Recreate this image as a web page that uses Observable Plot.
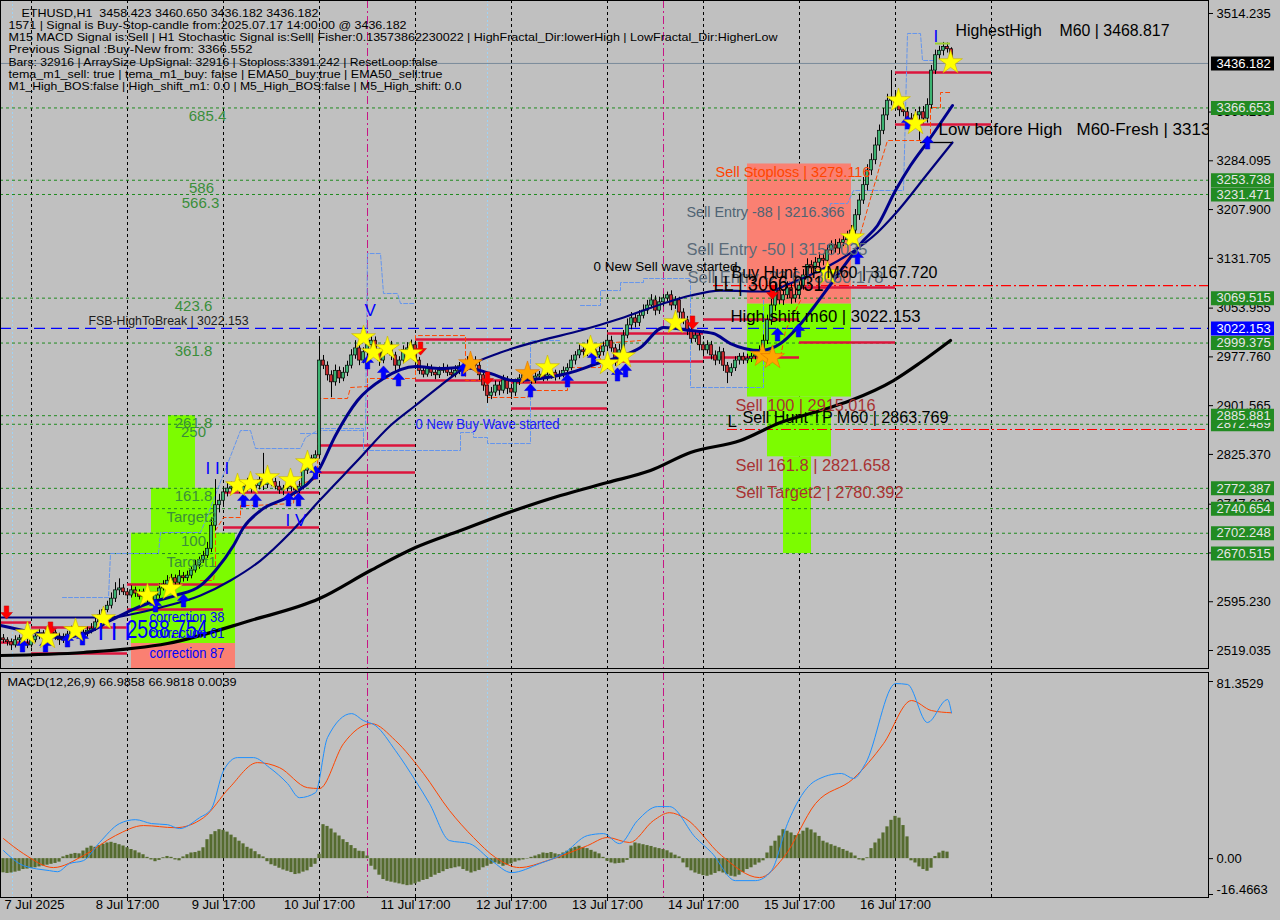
<!DOCTYPE html>
<html><head><meta charset="utf-8">
<script src="https://cdn.jsdelivr.net/npm/d3@7"></script>
<script src="https://cdn.jsdelivr.net/npm/@observablehq/plot@0.6"></script>
<style>
html,body{margin:0;padding:0;background:#c0c0c0;}
#chart{width:1280px;height:920px;position:relative;overflow:hidden;background:#c0c0c0;}
#chart svg{display:block;}
</style></head><body><div id="chart"></div>
<script>
// ---------------- DATA ----------------
const firstOpen = 2538;
const closes = [
 2535,2532,2527,2535,2538,2530,2527,2535,
 2541,2546,2538,2542,2547,2541,2535,2539,2544,2550,2546,2541,2547,2550,2553,
 2563,2574,2582,2589,2600,2613,2616,
 2610,2605,2613,2608,2603,2610,2600,2597,
 2605,2616,2622,2628,2632,2625,2635,2632,2636,
 2644,2652,2660,2667,2678,2714,
 2746,2753,2766,2772,
 2774,2778,2769,2775,2782,2772,2776,2785,2778,2788,2782,2775,2769,2772,2778,2774,2769,2775,
 2800,2813,2819,2824,
 2972,
 2964,2949,2938,2956,2944,2953,2964,
 2980,2991,2972,2985,2996,3003,
 2985,2972,2988,2996,2980,2964,2972,2988,2991,2996,2972,
 2956,2950,2960,2953,2949,2956,2960,2953,2949,2956,2963,2960,2969,2972,
 2964,2949,2933,2917,2922,
 2933,2925,2941,2928,2922,
 2938,2944,2949,2944,2941,2947,2950,2944,2949,2953,2947,2950,
 2956,2960,2972,2980,2988,2985,2996,2988,2980,2985,2994,3003,
 2991,2972,2988,3011,3027,3038,3031,3042,3050,
 3058,3066,3050,3063,3069,3074,3058,3066,3047,3035,
 3019,3006,3011,2996,2988,2996,
 2980,2972,2985,2964,2953,2960,2972,2978,2972,2975,
 2978,2980,2988,3003,
 3035,3058,3081,3066,3074,3085,3069,3074,
 3089,3105,3121,3116,3125,3131,3128,
 3144,3152,3147,3156,3160,3167,
 3175,3199,3222,3246,3269,
 3285,3308,3331,3355,3378,
 3381,3375,3363,3360,3350,3347,3355,
 3360,3350,3371,3425,
 3449,3456,3462,3458.423,3436.182
];
const wickUp = [
 6,4,5,7,5,4,6,5,
 5,6,4,5,8,4,5,6,5,7,4,6,5,6,8,
 6,8,5,7,9,12,15,
 6,5,7,5,6,5,4,6,
 5,7,6,8,6,5,9,6,7,
 6,8,5,7,10,12,
 40,10,8,9,
 8,6,7,9,6,5,8,6,42,7,5,6,8,5,7,6,5,8,
 6,8,5,7,
 34,
 8,6,7,9,6,8,7,
 9,12,8,7,10,9,
 6,5,8,7,6,5,6,7,9,8,6,
 5,6,7,5,4,6,7,5,6,8,6,5,9,7,
 6,5,6,5,8,
 7,6,8,6,5,
 5,6,5,7,4,6,5,6,5,7,4,6,
 6,7,8,6,9,7,8,6,5,8,7,9,
 7,6,9,8,10,9,7,8,9,
 8,9,7,8,6,5,7,6,5,6,
 6,7,8,6,5,7,
 6,7,8,6,5,7,6,5,6,7,
 5,6,7,9,
 8,10,12,9,8,10,7,9,
 8,9,10,7,8,9,7,
 8,7,9,6,8,7,
 8,9,10,12,9,
 10,12,9,11,10,
 44,9,8,10,7,8,9,
 8,9,10,8,
 8,7,7,6,2.227
];
const wickDn = [
 5,6,8,4,6,7,5,4,
 4,5,7,4,5,6,8,5,4,5,6,5,4,7,5,
 4,5,6,4,5,6,8,
 5,7,4,6,5,8,6,5,
 6,5,4,6,7,5,4,6,5,
 5,4,6,5,4,6,
 8,12,6,7,
 6,7,5,6,8,7,5,6,9,6,7,5,6,8,5,7,6,5,
 5,6,4,6,
 4,
 6,9,24,6,8,5,6,
 5,6,8,5,6,7,
 7,9,5,6,8,10,6,5,6,7,9,
 6,5,4,6,7,5,4,6,5,4,6,7,5,6,
 7,8,9,12,6,
 6,8,5,9,7,
 6,5,7,4,6,5,6,5,4,6,7,5,
 5,6,4,7,5,6,7,8,6,5,6,5,
 6,9,7,6,5,7,8,6,5,
 6,5,8,6,7,5,8,6,9,7,
 8,7,6,9,8,6,
 7,8,6,9,17,6,5,7,6,5,
 6,5,6,5,
 6,8,9,7,8,6,9,7,
 6,7,8,9,6,7,8,
 6,8,7,9,6,7,
 6,7,8,6,9,
 8,7,9,6,8,
 8,9,10,7,9,8,7,
 39,8,7,6,
 6,7,8,6,0
];
const macdHist = [
 -6.5,-6.8,-6.6,-6.2,-5.8,
 -5.0,-4.8,-4.5,-4.2,-3.8,-3.4,-3.0,-2.6,-2.2,-1.6,
 0.8,1.5,2.0,2.4,2.2,
 3.5,4.8,5.7,5.2,6.0,6.6,
 7.2,7.5,7.0,6.4,
 5.8,5.0,4.2,3.6,2.6,1.8,0.6,
 -0.6,-1.4,-0.8,0.4,
 1.0,0.6,-0.6,-1.0,0.8,
 1.8,2.6,2.8,3.4,5.0,8.7,11.0,
 12.4,13.3,13.0,12.2,10.8,9.6,
 8.0,6.8,5.2,4.4,3.2,1.8,0.8,
 -1.4,-2.8,-3.5,-4.4,-5.2,-5.8,-6.4,-7.3,-7.0,-6.2,-5.6,-4.0,-2.6,2.0,
 15.6,14.8,13.6,11.8,10.4,8.7,7.4,6.0,4.6,3.4,3.2,1.2,
 -3.5,-5.2,-7.6,-9.6,-10.4,-10.8,-11.2,-11.6,-12.0,-12.4,-12.2,-11.6,-10.8,-10.0,-9.6,-8.6,-7.6,-6.8,-6.0,-5.0,
 -4.6,-4.2,-3.8,-5.0,-5.8,-6.6,-6.0,-5.4,-4.2,-3.5,-2.6,
 -2.0,-2.6,-3.5,-3.0,-2.4,-1.6,-1.0,-0.6,-0.2,0.6,
 1.2,1.8,2.6,2.4,2.8,2.2,1.8,2.6,3.4,4.6,
 5.2,5.7,5.0,4.6,3.8,3.0,2.2,0.6,
 -1.2,-2.0,-2.4,-2.2,-2.0,-0.8,
 5.8,7.2,6.8,6.4,6.0,5.6,5.0,4.6,4.2,3.6,2.6,1.6,0.8,
 -2.0,-4.2,-5.6,-6.6,-7.2,-7.8,-8.1,-7.6,-6.8,-6.0,-6.6,-7.4,-8.1,-8.4,-7.6,-6.4,-5.0,-4.2,-3.0,-2.0,-1.0,
 2.6,5.7,8.0,10.4,13.3,12.6,11.8,10.6,11.2,12.6,14.0,13.2,11.8,10.2,8.0,7.2,6.4,5.7,5.0,4.2,3.4,2.6,1.2,
 -0.6,-1.0,0.4,
 4.6,7.2,9.0,11.8,14.6,17.6,19.4,18.6,15.2,10.0,
 -1.0,-2.0,-3.8,-5.0,-5.8,-4.4,1.0,
 2.6,3.4,3.0,0.0039
];
const macdMain = [[0,3.7],[5,-3.2],[11.5,-5.5],[13.5,-6.0],[16.5,-2.3],[20,-0.9],[24,7.4],[29,16.1],[33,17.9],[37,16.1],[41,15.6],[44,13.8],[49,18.8],[52,23.0],[55,40.4],[58.5,46.4],[62.5,46.4],[66.5,41.8],[71,34.5],[74,28.0],[78,30.3],[81,55.6],[87,66.6],[90,63.4],[93,61.1],[98,49.6],[103,35.8],[106.5,25.3],[111.5,8.3],[116.5,6.9],[122,-0.9],[127,-6.4],[134,-2.3],[140,2.3],[146,10.6],[150,11.5],[154,6.9],[158.5,17.5],[163.5,23.9],[166.5,23.9],[173,9.7],[177,2.8],[183,-10.1],[188,-10.1],[192,-5.5],[196,16.1],[203,35.8],[209.5,39.1],[212.5,36.8],[215.5,43.7],[223,80.4],[226,80.0],[231,62.5],[236,73.1],[237,66.9858]];
const macdSignal = [[0,9.2],[5,2.3],[12.5,-4.1],[20,1.4],[28,10.6],[35,15.2],[43,14.2],[50,18.8],[56.5,32.6],[63.5,44.1],[69,41.8],[76,32.6],[79,32.2],[85,52.8],[92,62.0],[98,54.2],[105,39.1],[111.5,22.1],[117.5,9.7],[123,0.5],[129,-4.1],[136,-0.9],[146,6.0],[151,9.7],[156.5,7.4],[162.5,17.5],[166.5,21.1],[170.5,18.4],[179.5,1.4],[189,-8.7],[195,0.5],[203,25.3],[212.5,36.8],[220,52.8],[227,72.6],[232,68.0],[237,66.9818]];
const emaFast = [[-0.75,2558.1],[7.5,2547.1],[14.25,2539.3],[20.5,2545.6],[26.75,2565.9],[31.75,2581.5],[36.75,2594.0],[43,2604.9],[49.25,2620.5],[53,2644.0],[57.5,2683.0],[60,2711.2],[64.25,2737.7],[71.75,2761.2],[78.75,2800.2],[83,2854.9],[88.5,2909.6],[95,2944.0],[103,2962.7],[109.25,2959.6],[115,2961.1],[121.75,2951.8],[127.5,2940.8],[134.25,2944.0],[141,2951.8],[149.25,2968.9],[153.5,2976.8],[159.25,2992.4],[165,3023.6],[171.75,3019.0],[177.5,3014.3],[181.75,2998.6],[189.25,2987.7],[194.25,2998.6],[198.5,3023.6],[202.5,3054.9],[207.5,3097.1],[215,3159.5],[218.5,3183.0],[223,3237.7],[226.75,3276.7],[231.25,3315.8],[237.25,3370.5]];
const emaSlow = [[-0.75,2570.6],[26.75,2570.6],[31.75,2575.3],[39.25,2586.2],[49.25,2604.9],[56.75,2628.4],[64.25,2659.6],[71.75,2703.4],[79,2753.3],[88.5,2815.8],[96.75,2870.5],[103,2901.8],[109.25,2933.0],[115,2959.6],[124.25,2984.6],[134.25,3003.3],[144.25,3018.9],[154.25,3037.7],[165,3061.1],[171.75,3073.6],[179.25,3081.4],[191,3079.9],[196,3090.8],[202.5,3108.0],[210,3133.0],[218.5,3172.1],[223,3201.7],[231.25,3265.8],[237.25,3312.7]];
const ema200 = [[-0.75,2511.2],[20,2515.9],[41,2530.0],[61.75,2565.9],[79,2600.2],[91.75,2644.0],[103,2679.9],[114.25,2706.5],[127,2736.2],[139.25,2761.2],[151,2781.5],[161.75,2800.2],[171.75,2828.3],[184.25,2847.1],[194.25,2875.2],[204.25,2893.9],[211.75,2909.6],[222.5,2940.8],[229.25,2968.9],[236.75,3003.3]];
const upperBand = [[14.75,2601.8],[26.25,2601.8],[26.75,2670.6],[38.75,2670.6],[39.25,2703.4],[49.25,2703.4],[50.5,2722.1],[59.25,2862.7],[61.75,2862.7],[63,2834.6],[74.25,2834.6],[75.5,2851.7],[78.5,2862.7],[90.5,2862.7],[91,3139.2],[94.25,3139.2],[95,3076.8],[98.5,3076.8],[99.25,3061.1],[103,3061.1],null,
 [144.25,3058.0],[149.25,3058.0],[149.25,3081.4],[154.25,3081.4],[154.25,3093.9],[160,3093.9],[160,3100.2],[171.75,3100.2],[171.75,2929.9],[190,2929.9],[190,3065.8],null,
 [206,3195.5],[206.75,3217.3],[211,3217.3],[212.5,3237.7],[225,3237.7],[226,3483.0],[229.25,3483.0],[229.75,3440.8],[233,3440.8]];
const lowerBand = [[74.25,2858.0],[79.25,2858.0],[79.25,2865.8],[90,2865.8],[90,2831.5],[114.25,2831.5],[114.25,2859.6],[117.5,2859.6],[117.5,2851.8],[121,2851.8],[121,2842.4],[131.75,2842.4],[131.75,3003.3],[139.25,3003.3]];
const trailStop = [[49.25,2628.4],[52.5,2628.4],[53,2648.7],[53,2706.5],[55,2726.8],[59.25,2726.8],[59.25,2745.6],[62.5,2745.6],[72.5,2748.7],[73,2776.8],[78.5,2787.7],[78.75,2912.7],[86,2912.7],[86.75,2929.9],[91,2931.5],[91,2944.0],[103,2944.0],[103,3011.1],[115.5,3011.1],[115.5,2940.8],[120,2940.8],[121,2914.3],[131,2914.3],[131.75,2925.2],[141,2925.2],[141,2961.1],[149.25,2961.1],[149.25,2998.6],[159.25,3003.3],null,
 [189.25,2976.8],[194.25,2976.8],[195.5,3018.9],[199.25,3065.8],null,
 [214.25,3170.5],[219.25,3279.8],[221,3315.8],[231.75,3315.8],[231.75,3367.3],[234.25,3367.3],[234.25,3390.8],[236.75,3390.8]];
const segStart = [-0.75,7,31,55,79,103,127,151,175,199,223];
const segEnd   = [7,31,55,79,103,127,151,175,199,223,247];
const segHigh  = [2562.7,2555.0,2622.1,2765.8,2839.3,3004.9,2937.7,3014.3,3036.1,3086.1,3422.0];
const segLow   = [2531.5,2514.3,2583.1,2711.2,2797.1,2940.8,2897.1,2970.5,2976.8,3000.2,3340.8];
const greenLevels = [3366.653,3253.738,3231.471,3069.515,2999.375,2885.881,2872.489,2772.387,2740.654,2702.248,2670.515];
const bidPrice = 3436.182;
const fsbPrice = 3022.153;
const huntLevels = [3089.2, 2864.3];
const huntStart = [177.5, 181];
const yTicks = [3514.235,3360.290,3284.095,3207.900,3131.705,3053.955,2977.760,2901.565,2825.370,2747.620,2671.425,2595.230,2519.035];
const gridIdx = [7,31,55,79,103,127,151,175,199,223,247];
const dateIdx = [31,55,79,103,127,151,175,199,223];
const dateLabels = ["8 Jul 17:00","9 Jul 17:00","10 Jul 17:00","11 Jul 17:00","12 Jul 17:00","13 Jul 17:00","14 Jul 17:00","15 Jul 17:00","16 Jul 17:00"];
const cyanLines = [2.25, 121];
const magentaLines = [91, 165];
const stars = [[6,2545.6],[11,2539.3],[18,2550.3],[25,2569.0],[36,2604.9],[41.75,2615.9],[58.5,2776.8],[61.75,2779.9],[66,2789.3],[71.75,2784.6],[76,2812.7],[90,3008.0],[92.5,2984.6],[96,2990.8],[101.75,2983.0],[136,2961.1],[146.75,2992.4],[151,2967.4],[155,2978.3],[168,3031.4],[206,3108.0],[212.25,3164.2],[223.75,3378.3],[228,3342.3],[236.75,3437.6]];
const orangeStars = [[116.75,2967.4],[131,2951.8],[189.75,2980.2],[192.25,2976.8]];
const upArrows = [[4.75,2527.0],[10.5,2527.0],[16,2534.8],[19.75,2537.9],[38,2589.4],[45,2597.2],[60,2753.5],[63,2753.5],[71.25,2755.0],[73.75,2755.0],[78,2797.2],[91,2969.1],[95,2953.4],[98.75,2942.5],[115,2958.1],[131.75,2925.3],[141,2941.0],[147.5,2976.9],[153.5,2950.3],[155.5,2956.6],[193.5,3012.8],[198.75,3019.1],[213.5,3133.1],[226,3344.0],[231,3312.8]];
const downArrows = [[0.75,2578.4],[11.75,2553.4],[104.25,2990.8],[121,2944.0],[172.25,3031.4],[192.25,3078.3]];
const headerLines = [
 "ETHUSD,H1\u00a0\u00a03458.423 3460.650 3436.182 3436.182",
 "1571 | Signal is Buy-Stop-candle from:2025.07.17 14:00:00 @ 3436.182",
 "M15 MACD Signal is:Sell | H1 Stochastic Signal is:Sell| Fisher:0.13573862230022 | HighFractal_Dir:lowerHigh | LowFractal_Dir:HigherLow",
 "Previous Signal :Buy-New from: 3366.552",
 "Bars: 32916 | ArraySize UpSignal: 32916 | Stoploss:3391.242 | ResetLoop:false",
 "tema_m1_sell: true | tema_m1_buy: false | EMA50_buy:true | EMA50_sell:true",
 "M1_High_BOS:false | High_shift_m1: 0.0 | M5_High_BOS:false | M5_High_shift: 0.0"
];
const headerWidths = [297,398,769,244,429,434,453];
const fibTexts = ["685.4","586","566.3","423.6","361.8","261.8","250","161.8","Target2","100","Target1"];
const fibIdx   = [51,49.5,49.25,47.5,47.5,47.5,47.5,47.5,47,47.5,47];
const fibPrice = [3353.3,3240.8,3217.3,3056.4,2986.1,2873.7,2859.6,2759.6,2726.8,2689.3,2656.5];
const zones = [
 {a:32,b:58,lo:2490.93,hi:2530.0,f:"#fa8072"},
 {a:32,b:58,lo:2530.0,hi:2702.248,f:"#7cfc00"},
 {a:37,b:53,lo:2702.248,hi:2772.387,f:"#7cfc00"},
 {a:41.25,b:48,lo:2772.387,hi:2885.881,f:"#7cfc00"},
 {a:186,b:212,lo:3060.178,hi:3279.116,f:"#fa8072"},
 {a:186,b:212,lo:2915.016,hi:3060.178,f:"#7cfc00"},
 {a:191,b:207,lo:2821.658,hi:2915.016,f:"#7cfc00"},
 {a:195,b:202,lo:2670.6,hi:2821.658,f:"#7cfc00"}
];
// annotation labels: text, bar index, price, font size, colour, width
const labels = [
 ["Sell Stoploss | 3279.116",178,3265.8,14,"#ff4500",155],
 ["Sell Entry -88 | 3216.366",170.75,3203.3,15,"#4f6373",158],
 ["Sell Entry -50 | 3158.035",170.75,3145.5,17,"#5b6b79",181],
 ["Sell Entry -23.6 | 3060.178",171,3101.8,17,"#5b6b79",196],
 ["0 New Sell wave started",147.5,3117.4,12,"#000000",144],
 ["Buy Hunt TP M60 | 3167.720",182,3109.5,17,"#000000",206],
 ["LL | 3066.031",177.5,3092.4,22,"#000000",110],
 ["High shift m60 | 3022.153",181.75,3040.8,17,"#000000",190],
 ["Sell 100 | 2915.016",183,2901.8,16,"#a83232",140],
 ["Sell Hunt TP M60 | 2863.769",184.75,2883.0,17,"#000000",206],
 ["L",181,2876.8,17,"#000000",0],
 ["Sell 161.8 | 2821.658",183,2808.0,16,"#a83232",155],
 ["Sell Target2 | 2780.392",183,2765.8,16,"#a83232",168],
 ["HighestHigh\u00a0\u00a0\u00a0\u00a0M60 | 3468.817",238,3487.6,17,"#000000",214],
 ["FSB-HighToBreak | 3022.153",21.25,3033.0,12,"#1c1c1c",160],
 ["0 New Buy Wave started",103,2872.1,14,"#1a1aff",144],
 ["correction 38",36.5,2570.6,14,"#0000ff",75],
 ["correction 61",36.5,2545.6,14,"#0000ff",75],
 ["correction 87",36.5,2514.3,14,"#0000ff",75],
 ["2588.754",30.75,2550.3,25,"#0000ff",81],
 ["I I I",23.5,2547.1,24,"#0000ff",0],
 ["I I I",50.5,2803.3,17,"#0000ff",0],
 ["I V",70.5,2722.1,17,"#0000ff",0],
 ["V",90.25,3050.2,17,"#0000ff",0],
 ["I",232.5,3478.3,17,"#0000ff",0]
];
const tags = [
 {v:2670.515,bg:"#228b22",fg:"#e6e6e6"},{v:2702.248,bg:"#228b22",fg:"#e6e6e6"},
 {v:2740.654,bg:"#228b22",fg:"#e6e6e6"},{v:2772.387,bg:"#228b22",fg:"#e6e6e6"},
 {v:2872.489,bg:"#228b22",fg:"#e6e6e6"},{v:2885.881,bg:"#228b22",fg:"#e6e6e6"},
 {v:2999.375,bg:"#228b22",fg:"#e6e6e6"},{v:3022.153,bg:"#0000ff",fg:"#ffffff"},
 {v:3069.515,bg:"#228b22",fg:"#e6e6e6"},{v:3231.471,bg:"#228b22",fg:"#e6e6e6"},
 {v:3253.738,bg:"#228b22",fg:"#e6e6e6"},{v:3366.653,bg:"#228b22",fg:"#e6e6e6"},
 {v:3436.182,bg:"#000000",fg:"#ffffff"}
];
const macdTitle = "MACD(12,26,9) 66.9858 66.9818 0.0039";
const macdTicks = [81.3529, 0, -16.4663];
const macdTickText = ["81.3529","0.00","-16.4663"];

// ---------------- BUILD ----------------
const FONT = "Liberation Sans, Arial, Helvetica, sans-serif";
const xDomain = [-0.75, 301.25];
const priceDomain = [2490.93, 3534.54];
const macdDomain = [-16.4663, 81.3529];
const tagX1 = xDomain[1] + 0.75, tagX2 = xDomain[1] + 16.5;

// thick arrow symbols (d3 symbol type interface)
const arrowSymbol = dir => ({
  draw(ctx, size) {
    const s = Math.sqrt(size / Math.PI);
    const p = [[0,-1.1],[1,0],[0.38,0],[0.38,1.1],[-0.38,1.1],[-0.38,0],[-1,0]];
    p.forEach(([a, b], k) => { const X = a * s, Y = b * s * dir; k ? ctx.lineTo(X, Y) : ctx.moveTo(X, Y); });
    ctx.closePath();
  }
});

const candles = closes.map((c, i) => {
  const o = i === 0 ? firstOpen : closes[i - 1];
  return {i, o, c, h: Math.max(o, c) + (wickUp[i] ?? 0), l: Math.min(o, c) - (wickDn[i] ?? 0), up: c >= o};
});
const pts = a => a.map(d => d ? {i: d[0], v: d[1]} : {i: NaN, v: NaN});
const segs = segStart.map((s, k) => ({s, e: segEnd[k], hi: segHigh[k], lo: segLow[k]}));
const histData = macdHist.map((v, i) => ({i, v}));

const widthMap = new Map();
headerLines.forEach((t, k) => widthMap.set(t, headerWidths[k]));
labels.forEach(l => { if (l[5]) widthMap.set(l[0], l[5]); });
widthMap.set(macdTitle, 229);

const mainMarks = [
  Plot.ruleX(gridIdx, {stroke: "#000", strokeDasharray: "3,3", strokeWidth: 1}),
  Plot.ruleX(cyanLines, {stroke: "#9fd3f5", strokeDasharray: "2,2"}),
  Plot.ruleX(magentaLines, {stroke: "#c71585", strokeDasharray: "8,3,2,3"}),
  Plot.rect(zones, {x1: "a", x2: "b", y1: "lo", y2: "hi", fill: d => d.f}),
  Plot.ruleY(greenLevels, {stroke: "#1f8a1f", strokeDasharray: "3,3"}),
  Plot.ruleY([bidPrice], {stroke: "#7a8a9a"}),
  Plot.ruleY([fsbPrice], {stroke: "#0000ff", strokeDasharray: "11,6", strokeWidth: 1.3}),
  Plot.ruleY(huntLevels.map((p, k) => ({p, s: huntStart[k]})), {y: "p", x1: "s", x2: xDomain[1], stroke: "#ff0000", strokeWidth: 1.2, strokeDasharray: "10,3,2,3"}),
  Plot.ruleY(segs, {y: "hi", x1: "s", x2: "e", stroke: "#dc143c", strokeWidth: 2.5}),
  Plot.ruleY(segs, {y: "lo", x1: "s", x2: "e", stroke: "#dc143c", strokeWidth: 2.5}),
  Plot.line(pts(upperBand), {x: "i", y: "v", stroke: "#6495ed", strokeDasharray: "4,2", strokeWidth: 1}),
  Plot.line(pts(lowerBand), {x: "i", y: "v", stroke: "#6495ed", strokeDasharray: "4,2", strokeWidth: 1}),
  Plot.line(pts(trailStop), {x: "i", y: "v", stroke: "#ff4500", strokeDasharray: "4,3", strokeWidth: 1}),
  Plot.ruleX(candles, {x: "i", y1: "l", y2: "h", stroke: "#000", strokeWidth: 1}),
  Plot.rect(candles, {x1: d => d.i - 0.38, x2: d => d.i + 0.38, y1: "o", y2: "c", fill: d => d.up ? "#3cb371" : "#c8282d", stroke: "#000", strokeWidth: 0.7}),
  Plot.line(pts(ema200), {x: "i", y: "v", stroke: "#000", strokeWidth: 3.2, curve: "monotone-x"}),
  Plot.line(pts(emaSlow), {x: "i", y: "v", stroke: "#00007a", strokeWidth: 2.2, curve: "monotone-x"}),
  Plot.line(pts(emaFast), {x: "i", y: "v", stroke: "#00008b", strokeWidth: 3, curve: "monotone-x"}),
  Plot.ruleY([3467.3], {x1: 233, x2: 236.75, stroke: "#9acd32", strokeWidth: 2}),
  Plot.ruleY([3312.7], {x1: 229.25, x2: 237.25, stroke: "#000", strokeWidth: 1.3}),
  Plot.dot(upArrows, {x: d => d[0], y: d => d[1], symbol: arrowSymbol(1), r: 6, fill: "#0000ff", stroke: "#0000cc", strokeWidth: 0.5}),
  Plot.dot(downArrows, {x: d => d[0], y: d => d[1], symbol: arrowSymbol(-1), r: 6, fill: "#ff0000", stroke: "#cc0000", strokeWidth: 0.5}),
  Plot.dot(orangeStars, {x: d => d[0], y: d => d[1], symbol: "star", r: 7.5, fill: "#ffa500", stroke: "#e07000", strokeWidth: 0.6}),
  Plot.dot(stars, {x: d => d[0], y: d => d[1], symbol: "star", r: 7.5, fill: "#ffff00", stroke: "#c8b400", strokeWidth: 0.6}),
  Plot.text(fibTexts, {x: (d, k) => fibIdx[k], y: (d, k) => fibPrice[k], text: d => d, fill: "#3a8e3a", fontSize: 15, textAnchor: "middle"}),
  ...labels.map(l => Plot.text([l], {x: d => d[1], y: d => d[2], text: d => d[0], fontSize: l[3], fill: l[4], textAnchor: "start"})),
  Plot.text(["Low before High\u00a0\u00a0\u00a0M60-Fresh | 3313.559"], {x: 233.75, y: 3333.0, text: d => d, fontSize: 17, fill: "#000", textAnchor: "start", clip: true}),
  ...headerLines.map((t, k) => Plot.text([t], {text: d => d, frameAnchor: "top-left", dx: k === 0 ? 21 : 8, dy: 12.8 + 12.2 * k, fontSize: 11, fill: "#000", textAnchor: "start", lineAnchor: "middle"})),
  Plot.axisY({anchor: "right", ticks: yTicks, tickFormat: d => d.toFixed(3), tickSize: 4, tickPadding: 4, fontSize: 13, label: null}),
  ...tags.flatMap(t => [
    Plot.ruleY([t.v], {x1: tagX1, x2: tagX2, stroke: t.bg, strokeWidth: 14}),
    Plot.text([t.v], {y: d => d, text: d => d.toFixed(3), frameAnchor: "right", dx: 8, textAnchor: "start", fill: t.fg, fontSize: 13})
  ]),
  Plot.frame({stroke: "#000"})
];

const main = Plot.plot({
  width: 1280, height: 669,
  marginLeft: 0, marginRight: 72, marginTop: 0, marginBottom: 1,
  x: {domain: xDomain, axis: null},
  y: {domain: priceDomain, axis: null},
  style: {background: "#c0c0c0", fontFamily: FONT, fontSize: "13px", color: "#000", overflow: "visible"},
  marks: mainMarks
});

const macd = Plot.plot({
  width: 1280, height: 251,
  marginLeft: 0, marginRight: 72, marginTop: 3, marginBottom: 23,
  x: {domain: xDomain, axis: null},
  y: {domain: macdDomain, range: [225, 12], axis: null},
  style: {background: "#c0c0c0", fontFamily: FONT, fontSize: "13px", color: "#000"},
  marks: [
    Plot.ruleX(gridIdx, {stroke: "#000", strokeDasharray: "3,3", strokeWidth: 1}),
    Plot.ruleX(cyanLines, {stroke: "#9fd3f5", strokeDasharray: "2,2"}),
    Plot.ruleX(magentaLines, {stroke: "#c71585", strokeDasharray: "8,3,2,3"}),
    Plot.rect(histData, {x1: d => d.i - 0.4, x2: d => d.i + 0.4, y1: 0, y2: "v", fill: "#556b2f"}),
    Plot.line(pts(macdSignal), {x: "i", y: "v", stroke: "#ff4500", strokeWidth: 1, curve: "monotone-x"}),
    Plot.line(pts(macdMain), {x: "i", y: "v", stroke: "#1e90ff", strokeWidth: 1, curve: "monotone-x"}),
    Plot.text([macdTitle], {text: d => d, frameAnchor: "top-left", dx: 7, dy: 10, fontSize: 11, fill: "#000", textAnchor: "start", lineAnchor: "middle"}),
    Plot.axisY({anchor: "right", ticks: macdTicks, tickFormat: () => "", tickSize: 4, label: null}),
    ...macdTicks.map((v, k) => Plot.text([v], {y: d => d, text: () => macdTickText[k], frameAnchor: "right", dx: 8, dy: k === 0 ? 2 : (k === 2 ? -5 : 0), textAnchor: "start", fontSize: 13, fill: "#000"})),
    Plot.axisX({ticks: dateIdx, tickFormat: () => "", tickSize: 4, label: null}),
    Plot.text(dateIdx, {x: d => d, text: (d, k) => dateLabels[k], frameAnchor: "bottom", dy: 11, fontSize: 13, fill: "#000", textAnchor: "middle"}),
    Plot.text(["7 Jul 2025"], {text: d => d, frameAnchor: "bottom-left", dx: 4, dy: 11, fontSize: 13, fill: "#000", textAnchor: "start"}),
    Plot.frame({stroke: "#000"})
  ]
});

const root = document.getElementById("chart");
root.append(main, macd);
root.querySelectorAll("text").forEach(el => {
  const w = widthMap.get(el.textContent);
  if (w) { el.setAttribute("textLength", w); el.setAttribute("lengthAdjust", "spacingAndGlyphs"); }
});
</script></body></html>
